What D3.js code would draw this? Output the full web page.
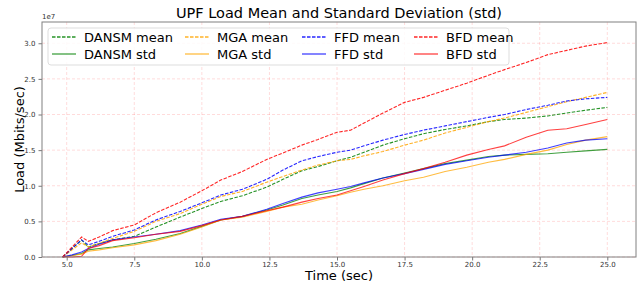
<!DOCTYPE html>
<html><head><meta charset="utf-8">
<script src="https://cdn.jsdelivr.net/npm/d3@7"></script>
<style>body{margin:0;background:#fff;} svg{display:block;font-family:"DejaVu Sans",sans-serif;}</style>
</head><body>
<svg id="c" width="637" height="284"></svg>
<script>
const time = [4.85,5.2,5.55,5.8,6.2,6.7,7.5,8.3,9.2,10.0,10.7,11.5,12.4,13.0,13.7,14.3,15.0,15.5,16.0,16.7,17.5,18.2,19.0,19.8,20.6,21.2,22.0,22.8,23.5,24.2,25.0];
const dansmMean = [0,0.12,0.24,0.14,0.19,0.24,0.29,0.42,0.56,0.68,0.78,0.86,0.98,1.09,1.21,1.27,1.35,1.40,1.47,1.57,1.66,1.73,1.79,1.84,1.90,1.93,1.95,1.98,2.02,2.06,2.10];
const mgaMean = [0,0.10,0.20,0.14,0.19,0.26,0.36,0.50,0.61,0.74,0.85,0.92,1.05,1.13,1.22,1.29,1.35,1.37,1.42,1.48,1.57,1.64,1.74,1.82,1.90,1.95,2.03,2.11,2.18,2.24,2.31];
const ffdMean = [0,0.12,0.24,0.17,0.22,0.29,0.38,0.52,0.64,0.76,0.87,0.95,1.09,1.22,1.35,1.41,1.47,1.50,1.56,1.64,1.72,1.78,1.84,1.90,1.96,2.00,2.07,2.13,2.19,2.22,2.24];
const bfdMean = [0,0.14,0.28,0.22,0.28,0.37,0.45,0.62,0.77,0.93,1.08,1.20,1.37,1.46,1.57,1.65,1.75,1.78,1.88,2.02,2.17,2.24,2.34,2.44,2.55,2.63,2.73,2.84,2.90,2.96,3.01];
const dansmStd = [0,0.02,0.05,0.10,0.12,0.14,0.19,0.25,0.33,0.43,0.52,0.57,0.66,0.73,0.82,0.87,0.92,0.97,1.03,1.11,1.18,1.24,1.31,1.36,1.41,1.43,1.44,1.45,1.47,1.49,1.51];
const mgaStd = [0,0.02,0.04,0.08,0.10,0.13,0.17,0.23,0.32,0.42,0.52,0.56,0.64,0.70,0.74,0.80,0.86,0.91,0.95,1.00,1.07,1.12,1.20,1.26,1.33,1.37,1.44,1.50,1.58,1.64,1.69];
const ffdStd = [0,0.03,0.07,0.12,0.18,0.24,0.28,0.32,0.37,0.45,0.53,0.57,0.67,0.75,0.84,0.90,0.95,0.99,1.04,1.11,1.17,1.23,1.30,1.35,1.40,1.43,1.47,1.53,1.60,1.64,1.66];
const bfdStd = [0,0,0.01,0.12,0.16,0.23,0.27,0.32,0.36,0.44,0.52,0.57,0.65,0.70,0.77,0.82,0.87,0.93,0.99,1.08,1.17,1.24,1.33,1.43,1.51,1.56,1.68,1.78,1.80,1.86,1.93];
const xTicks = [5.0,7.5,10.0,12.5,15.0,17.5,20.0,22.5,25.0];
const yTicks = [0.0,0.5,1.0,1.5,2.0,2.5,3.0];

const series = [
  {name:"DANSM mean", v:dansmMean, color:"green", dash:true},
  {name:"DANSM std", v:dansmStd, color:"green", dash:false},
  {name:"MGA mean", v:mgaMean, color:"orange", dash:true},
  {name:"MGA std", v:mgaStd, color:"orange", dash:false},
  {name:"FFD mean", v:ffdMean, color:"blue", dash:true},
  {name:"FFD std", v:ffdStd, color:"blue", dash:false},
  {name:"BFD mean", v:bfdMean, color:"red", dash:true},
  {name:"BFD std", v:bfdStd, color:"red", dash:false}
];

const L=42, R=636, T=22, B=257;
const svg = d3.select("#c");
const xpx = 27.03;
const x = d3.scaleLinear().domain([5 - (66.7-L)/xpx, 25 + (R-607.3)/xpx]).range([L,R]);
const y = d3.scaleLinear().domain([0, (B-T)/71.25]).range([B,T]);

// grid
const g = svg.append("g");
g.selectAll("line.gx").data(xTicks).join("line")
  .attr("x1",d=>x(d)).attr("x2",d=>x(d)).attr("y1",T).attr("y2",B)
  .attr("stroke","red").attr("stroke-opacity",0.18).attr("stroke-width",0.8).attr("stroke-dasharray","3,2");
g.selectAll("line.gy").data(yTicks).join("line")
  .attr("x1",L).attr("x2",R).attr("y1",d=>y(d)).attr("y2",d=>y(d))
  .attr("stroke","red").attr("stroke-opacity",0.18).attr("stroke-width",0.8).attr("stroke-dasharray","3,2");

// lines
const line = d3.line().x((d,i)=>x(time[i])).y(d=>y(d));
series.forEach(s=>{
  svg.append("path").datum(s.v).attr("d",line)
    .attr("fill","none").attr("stroke",s.color).attr("stroke-width",1.1)
    .attr("stroke-opacity",s.dash?0.85:0.75)
    .attr("stroke-dasharray",s.dash?"3.5,1.5":null);
});

// axes
const xAxis = svg.append("g").attr("transform",`translate(0,${B})`)
  .call(d3.axisBottom(x).tickValues(xTicks).tickFormat(d3.format(".1f")).tickSize(3.5).tickPadding(2));
const yAxis = svg.append("g").attr("transform",`translate(${L},0)`)
  .call(d3.axisLeft(y).tickValues(yTicks).tickFormat(d3.format(".1f")).tickSize(3.5).tickPadding(3));
[xAxis,yAxis].forEach(a=>{
  a.select(".domain").remove();
  a.selectAll(".tick line").attr("stroke","#555").attr("stroke-width",0.8);
  a.selectAll(".tick text").attr("fill","#333").style("font-size","7px").style("font-family","DejaVu Sans");
});
svg.append("rect").attr("x",L).attr("y",T).attr("width",R-L).attr("height",B-T)
  .attr("fill","none").attr("stroke","#808080").attr("stroke-width",1);

svg.append("text").attr("x",L).attr("y",19).text("1e7").style("font-size","7px").attr("fill","#333");

svg.append("text").attr("x",(L+R)/2).attr("y",18).attr("text-anchor","middle")
  .style("font-size","14.5px").attr("fill","#000").text("UPF Load Mean and Standard Deviation (std)");
svg.append("text").attr("x",(L+R)/2).attr("y",280).attr("text-anchor","middle")
  .style("font-size","13px").attr("fill","#000").text("Time (sec)");
svg.append("text").attr("transform",`translate(24,${(T+B)/2}) rotate(-90)`).attr("text-anchor","middle")
  .style("font-size","13px").attr("fill","#000").text("Load (Mbits/sec)");

// legend
const lg = svg.append("g");
lg.append("rect").attr("x",48).attr("y",28).attr("width",461).attr("height",37).attr("rx",3)
  .attr("fill","#fff").attr("fill-opacity",0.85).attr("stroke","#ddd").attr("stroke-width",1);
const colX = [52,185,302,414];
const rowY = [37,54];
series.forEach((s,i)=>{
  const c = Math.floor(i/2), r = i%2;
  const xx = colX[c], yy = rowY[r];
  lg.append("line").attr("x1",xx).attr("x2",xx+24).attr("y1",yy).attr("y2",yy)
    .attr("stroke",s.color).attr("stroke-width",1.3).attr("stroke-opacity",s.dash?0.85:0.75)
    .attr("stroke-dasharray",s.dash?"3.5,1.5":null);
  lg.append("text").attr("x",xx+32).attr("y",yy+4.5).style("font-size","13px").attr("fill","#000").text(s.name);
});
</script>
</body></html>
